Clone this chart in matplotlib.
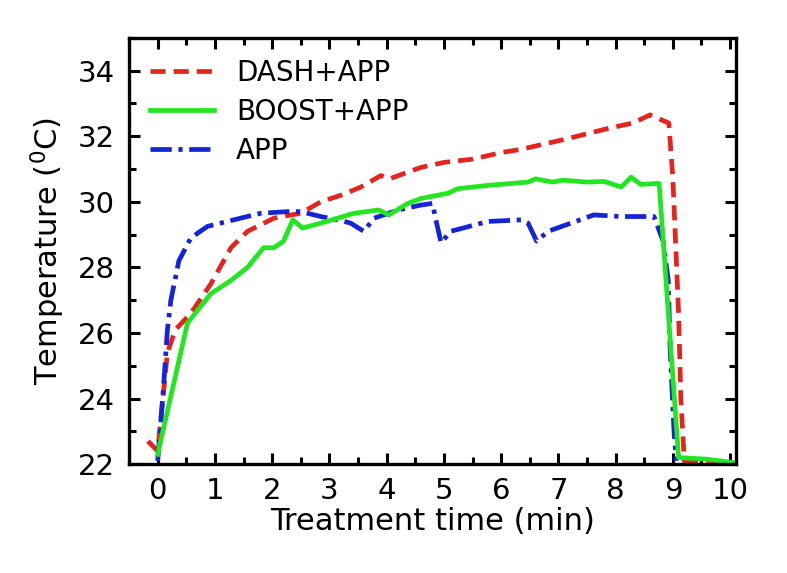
import matplotlib
matplotlib.use("Agg")
import matplotlib.pyplot as plt
from matplotlib.ticker import MultipleLocator

# DASH+APP (red dashed)
dash_t = [-0.17, 0.0, 0.17, 0.31, 0.58, 0.93, 1.28, 1.57, 2.03, 2.5, 2.85,
          3.2, 3.55, 3.9, 4.05, 4.6, 5.0, 5.5, 6.0, 6.35, 7.1, 7.9, 8.3,
          8.6, 8.93, 9.0, 9.1, 9.14, 9.2, 10.0]
dash_y = [22.7, 22.4, 25.4, 26.1, 26.6, 27.5, 28.6, 29.1, 29.5, 29.65,
          30.0, 30.2, 30.45, 30.8, 30.7, 31.05, 31.2, 31.3, 31.5, 31.6,
          31.9, 32.25, 32.4, 32.65, 32.4, 30.7, 26.6, 23.95, 22.1, 22.05]

# BOOST+APP (green solid)
boost_t = [0.0, 0.52, 0.93, 1.28, 1.57, 1.85, 2.03, 2.2, 2.36, 2.53,
           2.85, 3.43, 3.86, 4.04, 4.37, 4.6, 5.07, 5.24, 5.77, 6.47,
           6.6, 6.9, 7.08, 7.5, 7.8, 8.1, 8.27, 8.44, 8.76, 9.1, 9.6,
           10.05]
boost_y = [22.3, 26.3, 27.2, 27.6, 28.0, 28.6, 28.6, 28.8, 29.45, 29.2,
           29.35, 29.65, 29.75, 29.6, 29.95, 30.1, 30.26, 30.4, 30.5, 30.6,
           30.7, 30.6, 30.66, 30.6, 30.62, 30.45, 30.75, 30.53, 30.56,
           22.2, 22.15, 22.05]

# APP (blue dash-dot)
app_t = [0.0, 0.1, 0.17, 0.23, 0.37, 0.58, 0.87, 1.33, 1.8, 2.27, 2.5,
         2.85, 3.15, 3.37, 3.6, 3.78, 4.2, 4.6, 4.8, 4.86, 4.95, 5.12,
         5.77, 6.35, 6.47, 6.62, 6.82, 7.62, 8.1, 8.67, 8.83, 8.92, 8.95,
         9.02, 9.06]
app_y = [22.1, 24.3, 26.1, 27.0, 28.2, 28.9, 29.25, 29.45, 29.65, 29.7,
         29.7, 29.55, 29.45, 29.35, 29.1, 29.5, 29.75, 29.9, 29.95, 29.45,
         28.75, 29.1, 29.4, 29.45, 29.35, 28.8, 29.1, 29.6, 29.55, 29.55,
         28.8, 27.6, 25.6, 23.0, 22.1]

plt.rcParams["font.family"] = ["DejaVu Sans"]
plt.rcParams["mathtext.default"] = "regular"

fig = plt.figure(figsize=(7.87, 5.73), dpi=100)
ax = fig.add_axes([0.164, 0.19, 0.771, 0.744])

ax.plot(dash_t, dash_y, color="#e52420", lw=3.4, linestyle=(0, (3.2, 1.7)),
        label="DASH+APP")
ax.plot(app_t, app_y, color="#1424d8", lw=3.4,
        linestyle=(0, (4.5, 1.4, 0.9, 1.4)), label="APP")
ax.plot(boost_t, boost_y, color="#22e622", lw=3.4, label="BOOST+APP")

ax.set_xlim(-0.5, 10.1)
ax.set_ylim(22, 35)
ax.xaxis.set_major_locator(MultipleLocator(1))
ax.xaxis.set_minor_locator(MultipleLocator(0.5))
ax.yaxis.set_major_locator(MultipleLocator(2))
ax.yaxis.set_minor_locator(MultipleLocator(1))
ax.tick_params(which="both", direction="in", top=True, right=True,
               width=2.2, labelsize=21)
ax.tick_params(axis="y", pad=10)
ax.tick_params(axis="x", pad=9)
ax.tick_params(which="major", length=8)
ax.tick_params(which="minor", length=5)
for s in ax.spines.values():
    s.set_linewidth(2.4)

ax.set_xlabel("Treatment time (min)", fontsize=22, labelpad=2)
ax.set_ylabel("Temperature ($^0$C)", fontsize=22, labelpad=8)

h, l = ax.get_legend_handles_labels()
order = [0, 2, 1]
ax.legend([h[i] for i in order], [l[i] for i in order], loc="upper left",
          frameon=False, fontsize=20, handlelength=2.3, handletextpad=0.8,
          labelspacing=0.4, borderaxespad=0.35)

fig.savefig("out.png")
